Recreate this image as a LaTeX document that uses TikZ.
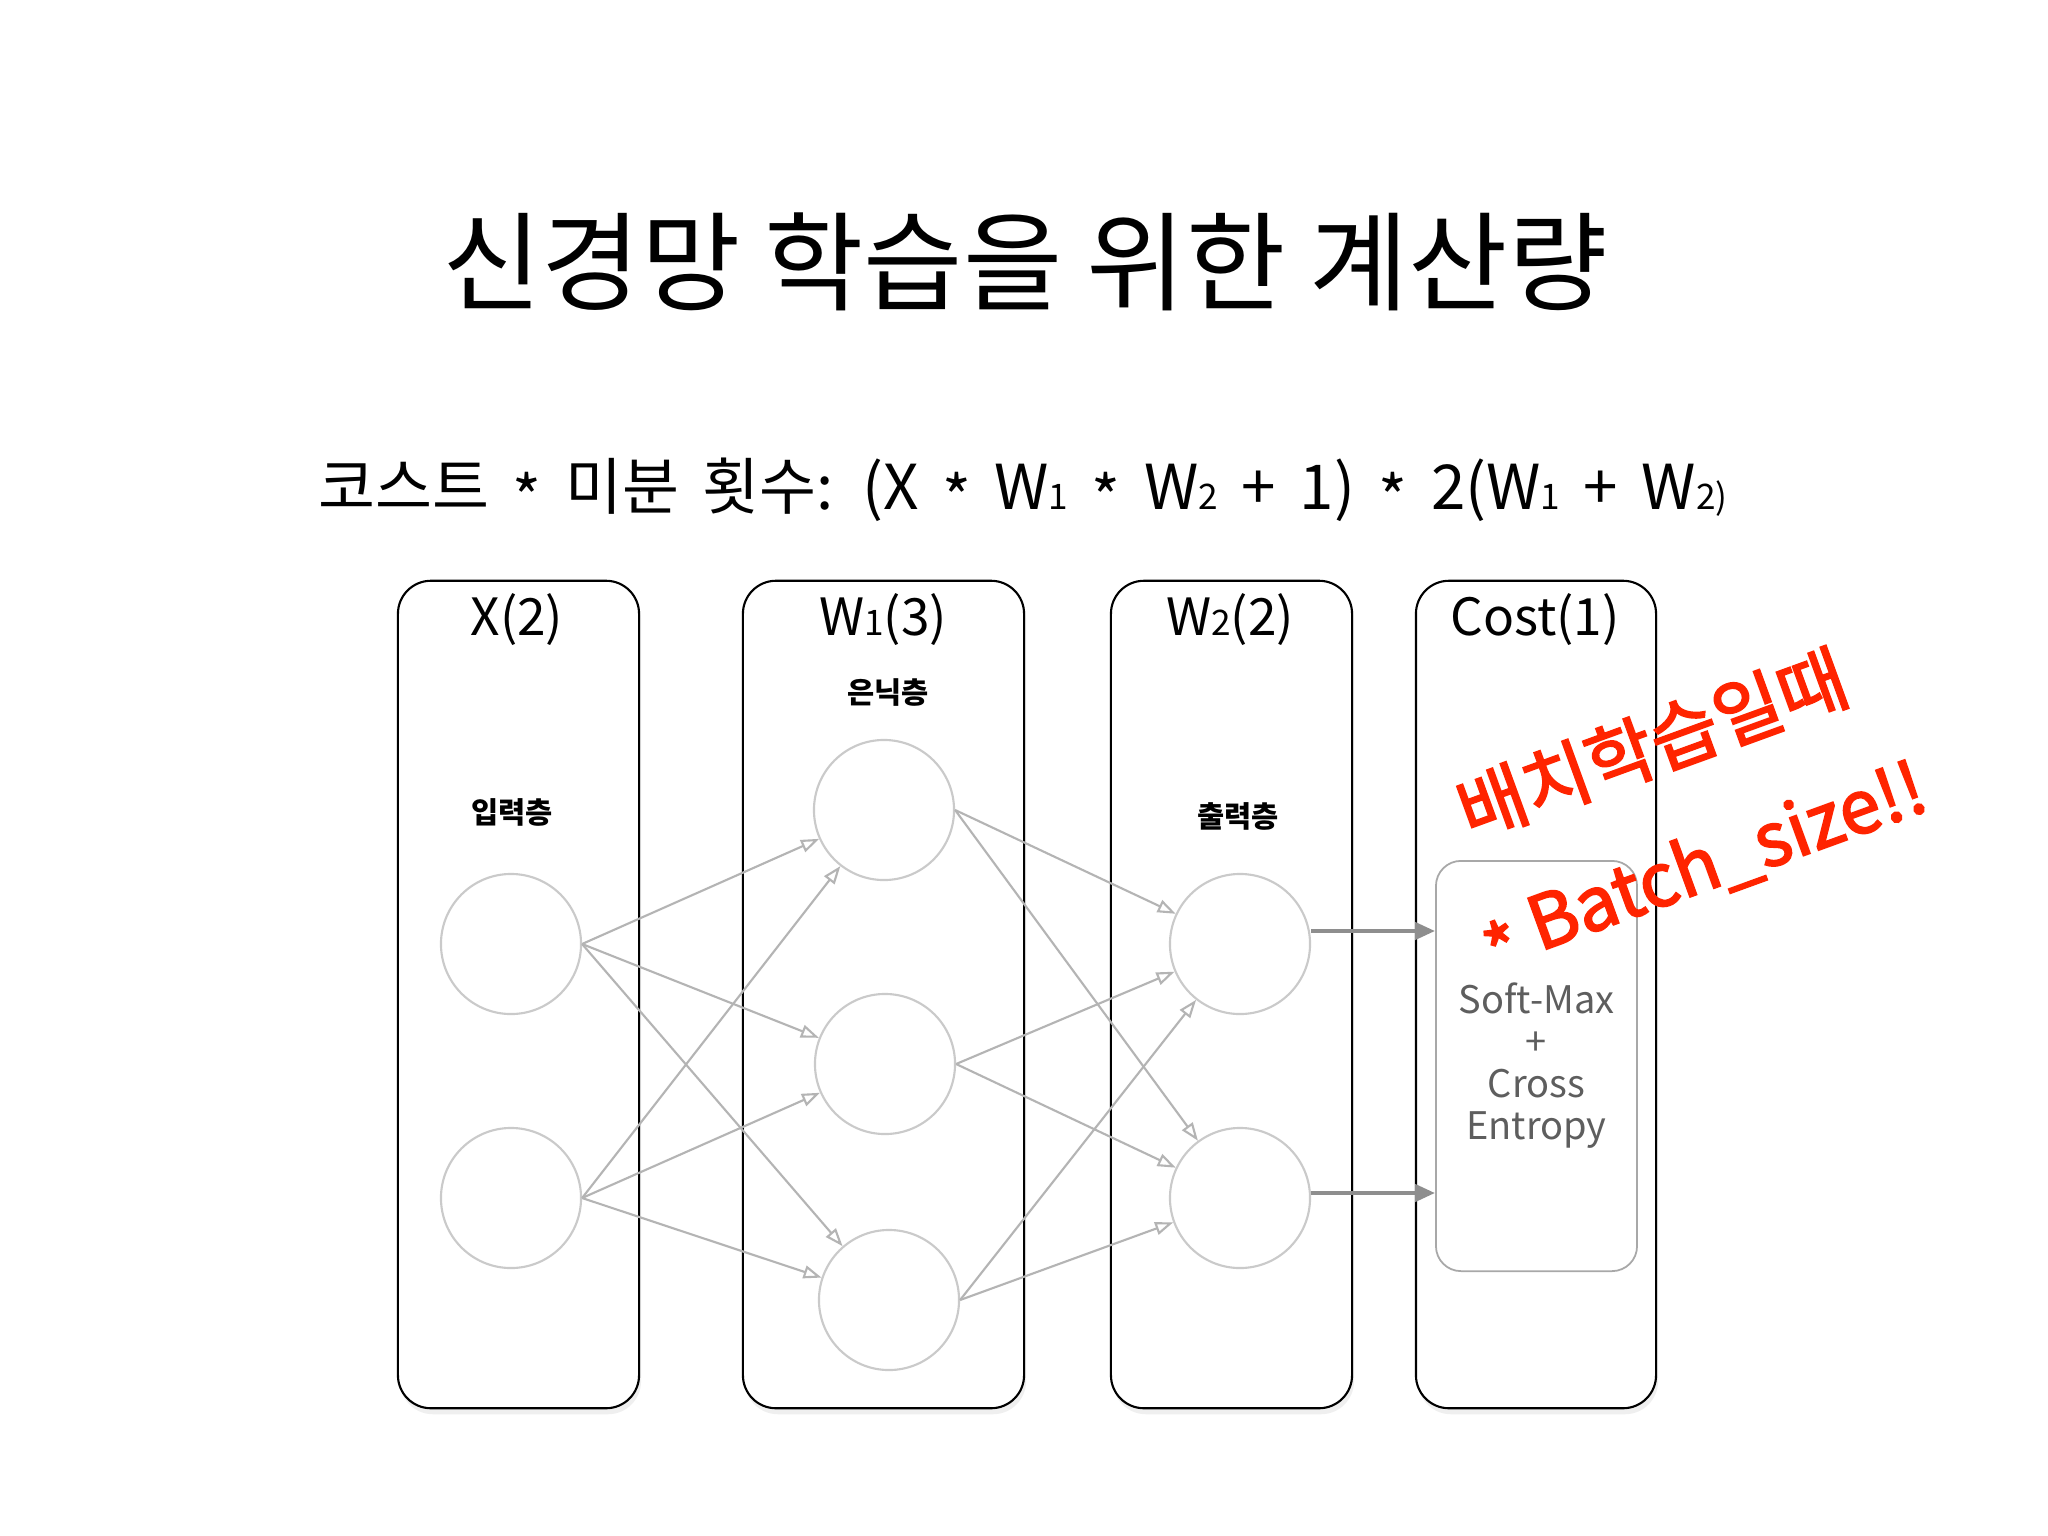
\documentclass[tikz,border=0pt]{standalone}
\usepackage{fontspec}
\setmainfont{Noto Sans CJK KR}
\newfontfamily\krmed[FakeBold=2.4]{Noto Sans CJK KR}
\newfontfamily\krwide[WordSpace=1.7]{Noto Sans CJK KR}
\usetikzlibrary{arrows.meta,shadows}

\definecolor{linkgray}{HTML}{B4B4B4}
\definecolor{neurongray}{HTML}{CACACA}
\definecolor{arrowgray}{HTML}{8E8E8E}
\definecolor{boxgray}{HTML}{A8A8A8}
\definecolor{textgray}{HTML}{5E5E5E}
\definecolor{memored}{HTML}{FF2400}

\newcommand{\lowix}[1]{{\fontsize{10}{10}\selectfont #1}}
\newcommand{\tms}{\raisebox{-0.35ex}{*}}

\tikzset{
  layerbox/.style={draw=black, line width=0.6pt, fill=white, rounded corners=0.33cm,
    drop shadow={opacity=0.12, shadow xshift=0.02cm, shadow yshift=-0.06cm}},
  neuron/.style={circle, draw=neurongray, line width=0.6pt, minimum size=1.40cm, inner sep=0pt},
  link/.style={draw=linkgray, line width=0.6pt, -{Triangle[open, length=0.18cm, width=0.13cm]}},
  outarrow/.style={draw=arrowgray, line width=1.2pt, -{Triangle[length=0.2cm, width=0.17cm]}},
  hdr/.style={font=\fontsize{14.6}{18}\selectfont},
  lbl/.style={font=\fontsize{8.4}{10}\selectfont\bfseries},
  smbox/.style={draw=boxgray, line width=0.5pt, rounded corners=0.25cm, minimum width=2.01cm,
    minimum height=4.10cm, align=center, text=textgray, font=\fontsize{10.8}{11.95}\selectfont},
  redtxt/.style={text=memored, rotate=20, font=\fontsize{21}{24}\selectfont\krmed}
}

\begin{document}
\begin{tikzpicture}[x=0.01cm, y=-0.01cm]
\useasboundingbox (0,0) rectangle (2048,1536);
\fill[white] (0,0) rectangle (2048,1536);

\node[font=\fontsize{30.7}{36}\selectfont] (title) at (1025,262) {신경망 학습을 위한 계산량};
\node[font=\krwide\fontsize{17.6}{20}\selectfont] (formula) at (1023,490)
  {코스트 \tms{} 미분 횟수: (X \tms{} W\lowix{1} \tms{} W\lowix{2} + 1) \tms{} 2(W\lowix{1} + W\lowix{2)}};

\node[layerbox, minimum width=2.41cm, minimum height=8.27cm] (boxX) at (518.5,994.5) {};
\node[layerbox, minimum width=2.81cm, minimum height=8.27cm] (boxWa) at (883.5,994.5) {};
\node[layerbox, minimum width=2.41cm, minimum height=8.27cm] (boxWb) at (1231.5,994.5) {};
\node[layerbox, minimum width=2.40cm, minimum height=8.27cm] (boxC) at (1536,994.5) {};

\node[hdr] (hX) at (517,620) {X(2)};
\node[hdr] (hWa) at (883,620) {W\lowix{1}(3)};
\node[hdr] (hWb) at (1230,620) {W\lowix{2}(2)};
\node[hdr] (hC) at (1535,620) {Cost(1)};

\node[lbl] (lin) at (512,812) {입력층};
\node[lbl] (lhid) at (888,692) {은닉층};
\node[lbl] (lout) at (1238,816) {출력층};

\node[neuron] (i1) at (511,944) {};
\node[neuron] (i2) at (511,1198) {};
\node[neuron] (h1) at (884,810) {};
\node[neuron] (h2) at (885,1064) {};
\node[neuron] (h3) at (889,1300) {};
\node[neuron] (o1) at (1240,944) {};
\node[neuron] (o2) at (1240,1198) {};

\foreach \a in {i1,i2}
  \foreach \b in {h1,h2,h3}
    \draw[link] (\a.east) -- (\b);
\foreach \a in {h1,h2,h3}
  \foreach \b in {o1,o2}
    \draw[link] (\a.east) -- (\b);

\node[smbox] (sm) at (1536.5,1066) {Soft-Max\\+\\Cross\\Entropy};

\draw[outarrow] ([yshift=0.13cm]o1.east) -- ([yshift=0.13cm]o1.east -| sm.west);
\draw[outarrow] ([yshift=0.05cm]o2.east) -- ([yshift=0.05cm]o2.east -| sm.west);

\node[redtxt] (batch) at (1652,744) {배치학습일때};
\node[redtxt] (bsize) at (1704,868) {\tms{} Batch\_size!!};

\end{tikzpicture}
\end{document}
